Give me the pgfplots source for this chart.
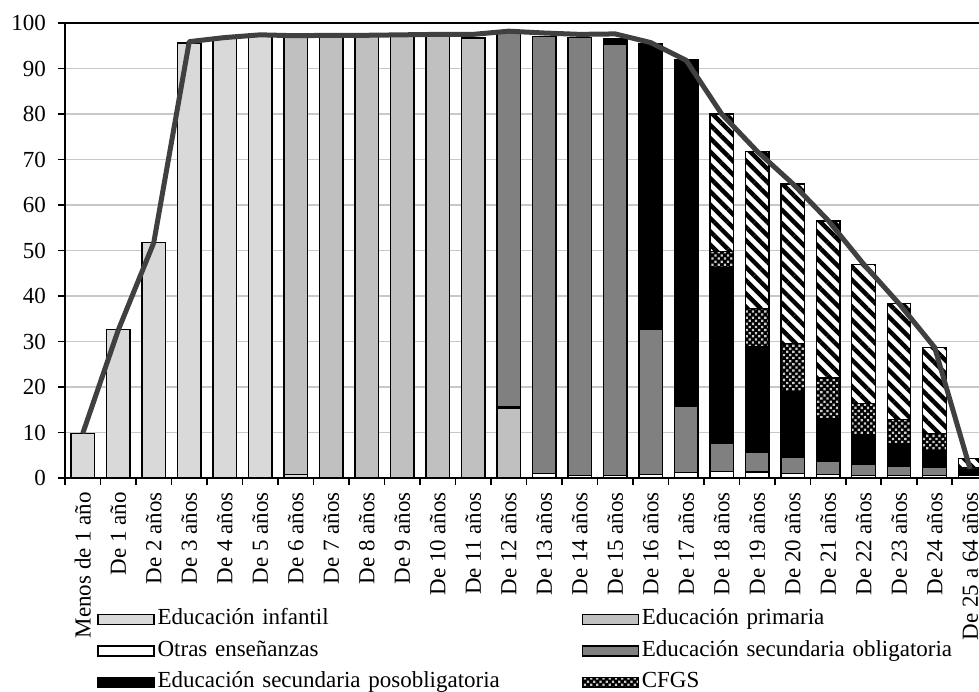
\documentclass[border=0pt]{standalone}
\usepackage{fontspec}
\setmainfont{Liberation Serif}
\usepackage{pgfplots}
\pgfplotsset{compat=1.18}
\usepackage{pgfplotstable}
\usetikzlibrary{patterns,patterns.meta}

\definecolor{infantil}{HTML}{D9D9D9}
\definecolor{primaria}{HTML}{C0C0C0}
\definecolor{eso}{HTML}{808080}
\definecolor{linea}{HTML}{404040}
\definecolor{rejilla}{HTML}{C8C8C8}

\newcommand{\fs}{\fontsize{11.5}{13}\selectfont}

% x inf pri otr eso pos cfgs uni tasa
\pgfplotstableread{
x inf pri otr eso pos cfgs uni tasa
0 9.8 0 0 0 0 0 0 9.8
1 32.6 0 0 0 0 0 0 32.5
2 51.7 0 0 0 0 0 0 51.7
3 95.6 0 0 0 0 0 0 95.9
4 96.6 0 0 0 0 0 0 96.8
5 97.3 0 0 0 0 0 0 97.4
6 0.8 96.1 0 0 0 0 0 97.2
7 0 97.0 0 0 0 0 0 97.3
8 0 97.1 0 0 0 0 0 97.3
9 0 97.1 0 0 0 0 0 97.4
10 0 97.1 0 0 0 0 0 97.5
11 0 96.7 0 0 0 0 0 97.5
12 0 15.2 0.4 82.3 0 0 0 98.2
13 0 0 1.0 96.0 0 0 0 97.8
14 0 0 0.6 96.2 0 0 0 97.5
15 0 0 0.6 94.7 1.2 0 0 97.6
16 0 0 0.8 31.9 62.8 0 0 95.7
17 0 0 1.2 14.6 76.1 0 0 91.8
18 0 0 1.5 6.0 38.7 3.5 30.3 80.0
19 0 0 1.3 4.3 23.3 8.4 34.4 71.8
20 0 0 1.0 3.5 14.5 10.6 35.0 64.7
21 0 0 0.7 3.0 9.3 9.0 34.5 56.6
22 0 0 0.5 2.6 6.4 6.8 30.7 47.0
23 0 0 0.5 2.1 5.0 5.3 25.4 38.3
24 0 0 0.5 1.8 3.7 3.8 18.9 28.7
25 0 0 0.5 0.4 1.0 0.4 1.9 2.0
}\datos

\pgfplotsset{
  barleg/.style={legend image code/.code={\draw[##1,line width=0.6pt] (0pt,-2.5pt) rectangle (28pt,2.5pt);}},
}

\begin{document}
\begin{tikzpicture}
\begin{axis}[
  scale only axis, width=457pt, height=227.5pt,
  xmin=-0.5, xmax=25.25, ymin=0, ymax=100,
  ybar stacked, bar width=11.75pt,
  axis x line=box, axis y line=left,
  axis line style={-, line width=0.9pt},
  xtick=data,
  xticklabels={Menos de 1 año,De 1 año,De 2 años,De 3 años,De 4 años,De 5 años,De 6 años,De 7 años,De 8 años,De 9 años,De 10 años,De 11 años,De 12 años,De 13 años,De 14 años,De 15 años,De 16 años,De 17 años,De 18 años,De 19 años,De 20 años,De 21 años,De 22 años,De 23 años,De 24 años,De 25 a 64 años},
  minor xtick={-0.5,0.5,...,24.5},
  ytick={0,10,...,100},
  xtick pos=lower, ytick pos=left,
  tick align=outside, major tick length=3.5pt, minor tick length=3.5pt,
  tick style={black, line width=0.9pt},
  every major x tick/.append style={draw=none},
  ymajorgrids, major grid style={rejilla, line width=0.7pt},
  /pgf/number format/assume math mode=true,
  yticklabel style={font=\fs, xshift=-2.5pt},
  xticklabel style={font=\fs, rotate=90, anchor=east},
  legend columns=2,
  legend cell align=left,
  legend style={at={(0.035,-0.2868)}, anchor=north west, draw=none, fill=none,
    inner sep=0pt, font=\fs, column sep=0pt, row sep=5.25pt,
    nodes={inner xsep=1.5pt, inner ysep=0pt, text height=8pt, text depth=2.5pt, text width=210.5pt}},
]
\coordinate (sw) at (rel axis cs:0,0);
\addplot[barleg, draw=black, line width=0.6pt, fill=infantil] table[x=x,y=inf]{\datos};
\addplot[barleg, draw=black, line width=0.6pt, fill=primaria] table[x=x,y=pri]{\datos};
\addplot[barleg, draw=black, line width=0.6pt, fill=white] table[x=x,y=otr]{\datos};
\addplot[barleg, draw=black, line width=0.6pt, fill=eso] table[x=x,y=eso]{\datos};
\addplot[barleg, draw=black, line width=0.6pt, fill=black] table[x=x,y=pos]{\datos};
\addplot[barleg, draw=black, line width=0.6pt, preaction={fill=black},
  pattern={Dots[distance=2.2pt, radius=0.8pt, angle=45]}, pattern color=white!80!black] table[x=x,y=cfgs]{\datos};
\addplot[barleg, draw=black, line width=0.6pt, preaction={fill=white},
  pattern={Lines[angle=-45, distance=4.7pt, line width=2.2pt]}, pattern color=black] table[x=x,y=uni]{\datos};
\legend{Educación infantil,Educación primaria,Otras enseñanzas,Educación secundaria obligatoria,Educación secundaria posobligatoria,CFGS}
\end{axis}
\begin{axis}[
  scale only axis, width=457pt, height=227.5pt,
  xmin=-0.5, xmax=25.25, ymin=0, ymax=100,
  hide axis,
]
\addplot[linea, line width=2.5pt, line join=round] table[x=x,y=tasa]{\datos};
\end{axis}
\pgfresetboundingbox
\path (sw) ++(-32.5pt,-106.5pt) rectangle ++(489.5pt,345.5pt);
\end{tikzpicture}
\end{document}
